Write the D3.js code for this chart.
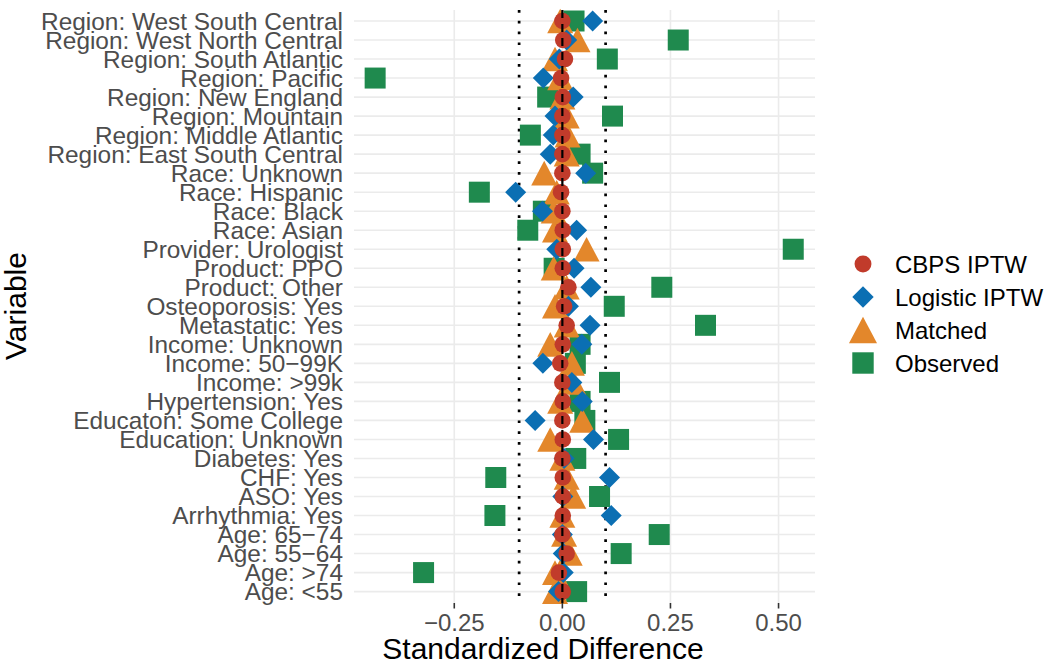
<!DOCTYPE html>
<html>
<head>
<meta charset="utf-8">
<script src="https://cdn.jsdelivr.net/npm/d3@7"></script>
<style>
  html, body { margin: 0; padding: 0; background: #fff; }
  svg { display: block; }
  text { font-family: "Liberation Sans", Arial, Helvetica, sans-serif; }
</style>
</head>
<body>
<svg id="chart" width="1050" height="667"></svg>
<script>
const variables = [
  "Region: West South Central", "Region: West North Central", "Region: South Atlantic",
  "Region: Pacific", "Region: New England", "Region: Mountain", "Region: Middle Atlantic",
  "Region: East South Central", "Race: Unknown", "Race: Hispanic", "Race: Black", "Race: Asian",
  "Provider: Urologist", "Product: PPO", "Product: Other", "Osteoporosis: Yes", "Metastatic: Yes",
  "Income: Unknown", "Income: 50\u221299K", "Income: >99k", "Hypertension: Yes",
  "Educaton: Some College", "Education: Unknown", "Diabetes: Yes", "CHF: Yes", "ASO: Yes",
  "Arrhythmia: Yes", "Age: 65\u221274", "Age: 55\u221264", "Age: >74", "Age: <55"
];
const cbpsIPTW = [0, 0.002, 0.006, -0.003, 0.001, 0, 0, 0, 0, -0.003, 0, 0.001, 0.001, 0.001, 0.014, 0.004, 0.01, 0.001, -0.005, 0, 0.001, 0, 0.001, 0, 0.001, 0.001, 0.001, 0, 0.01, -0.008, 0.001];
const logisticIPTW = [0.070, 0.01, -0.007, -0.044, 0.025, -0.017, -0.021, -0.028, 0.054, -0.108, -0.046, 0.033, -0.013, 0.027, 0.066, 0.014, 0.064, 0.045, -0.045, 0.022, 0.046, -0.063, 0.072, 0.004, 0.109, 0.001, 0.113, 0.0, 0.002, 0.002, -0.009];
const matched = [-0.005, 0.035, -0.017, -0.005, 0.0, 0.01, 0.012, 0.01, -0.042, -0.013, -0.02, -0.017, 0.056, -0.02, 0.01, -0.017, 0.01, -0.028, 0.022, 0.025, -0.005, 0.046, -0.028, 0.0, 0.01, 0.025, 0.0, 0.004, 0.017, -0.017, -0.017];
const observed = [0.027, 0.268, 0.104, -0.433, -0.034, 0.116, -0.074, 0.041, 0.070, -0.192, -0.044, -0.08, 0.534, -0.019, 0.230, 0.120, 0.331, 0.041, 0.03, 0.109, 0.041, 0.052, 0.130, 0.031, -0.154, 0.086, -0.156, 0.224, 0.136, -0.321, 0.033];
const xTicks = [-0.25, 0, 0.25, 0.5];
const xTickLabels = ["\u22120.25", "0.00", "0.25", "0.50"];
const thresholds = [-0.1, 0.1];
const seriesNames = ["CBPS IPTW", "Logistic IPTW", "Matched", "Observed"];
const seriesColors = ["#C13B2B", "#0B6FB3", "#E3872B", "#1F8A4E"];
const seriesShapes = ["circle", "diamond", "triangle", "square"];

const series = [
  { name: seriesNames[0], values: cbpsIPTW, color: seriesColors[0], shape: seriesShapes[0] },
  { name: seriesNames[1], values: logisticIPTW, color: seriesColors[1], shape: seriesShapes[1] },
  { name: seriesNames[2], values: matched, color: seriesColors[2], shape: seriesShapes[2] },
  { name: seriesNames[3], values: observed, color: seriesColors[3], shape: seriesShapes[3] }
];
const drawOrder = [3, 2, 1, 0];

const svg = d3.select("#chart");
svg.append("rect").attr("width", 1050).attr("height", 667).attr("fill", "#fff");

const panel = { left: 354, right: 815, top: 10, bottom: 603 };
const x = d3.scaleLinear().domain([-0.4819, 0.5843]).range([panel.left, panel.right]);
const y = d3.scalePoint().domain(variables).range([21, 591.6]);

function shapePath(shape, s) {
  s = s || 1;
  if (shape === "circle") {
    const r = 8.3 * s;
    return `M${-r},0A${r},${r} 0 1,0 ${r},0A${r},${r} 0 1,0 ${-r},0Z`;
  }
  if (shape === "diamond") {
    const h = 10.5 * s;
    return `M0,${-h}L${h},0L0,${h}L${-h},0Z`;
  }
  if (shape === "triangle") {
    const b = 13 * s, t = 12.3 * s;
    return `M0,${-t}L${b},${t}L${-b},${t}Z`;
  }
  const q = 10.5 * s;
  return `M${-q},${-q}L${q},${-q}L${q},${q}L${-q},${q}Z`;
}

// grid
const grid = svg.append("g");
grid.selectAll("line.h").data(variables).join("line")
  .attr("x1", panel.left).attr("x2", panel.right)
  .attr("y1", d => y(d)).attr("y2", d => y(d))
  .attr("stroke", "#EBEBEB").attr("stroke-width", 1.6);
grid.selectAll("line.v").data(xTicks).join("line")
  .attr("x1", d => x(d)).attr("x2", d => x(d))
  .attr("y1", panel.top).attr("y2", panel.bottom)
  .attr("stroke", "#EBEBEB").attr("stroke-width", 1.6);

// threshold dotted lines
svg.append("g").selectAll("line").data(thresholds).join("line")
  .attr("x1", d => x(d)).attr("x2", d => x(d))
  .attr("y1", panel.top).attr("y2", panel.bottom)
  .attr("stroke", "#000").attr("stroke-width", 2.7)
  .attr("stroke-dasharray", "2.7,8.1");

// points
const pts = svg.append("g");
drawOrder.forEach(si => {
  const s = series[si];
  pts.append("g").selectAll("path").data(variables).join("path")
    .attr("transform", (d, i) => `translate(${x(s.values[i])},${y(d)})`)
    .attr("d", shapePath(s.shape))
    .attr("fill", s.color);
});

// zero dashed line
svg.append("line")
  .attr("x1", x(0)).attr("x2", x(0))
  .attr("y1", panel.top).attr("y2", panel.bottom)
  .attr("stroke", "#000").attr("stroke-width", 2.2)
  .attr("stroke-dasharray", "8,6");

// x axis ticks and labels
const xa = svg.append("g");
xa.selectAll("line").data(xTicks).join("line")
  .attr("x1", d => x(d)).attr("x2", d => x(d))
  .attr("y1", 603).attr("y2", 608.5)
  .attr("stroke", "#333").attr("stroke-width", 1.6);
xa.selectAll("text").data(xTicks).join("text")
  .attr("x", d => x(d)).attr("y", 631)
  .attr("text-anchor", "middle")
  .attr("font-size", 24).attr("fill", "#4D4D4D")
  .text((d, i) => xTickLabels[i]);

// y labels
svg.append("g").selectAll("text").data(variables).join("text")
  .attr("x", 343).attr("y", d => y(d) + 8.6)
  .attr("text-anchor", "end")
  .attr("font-size", 24.4).attr("fill", "#4D4D4D")
  .text(d => d);

// axis titles
svg.append("text")
  .attr("x", 543).attr("y", 659)
  .attr("text-anchor", "middle").attr("font-size", 30).attr("fill", "#000")
  .text("Standardized Difference");
svg.append("text")
  .attr("transform", "translate(26,306) rotate(-90)")
  .attr("text-anchor", "middle").attr("font-size", 30).attr("fill", "#000")
  .text("Variable");

// legend
const legend = svg.append("g");
const legY = d3.scalePoint().domain(seriesNames).range([264, 363]);
const leg = legend.selectAll("g").data(series).join("g")
  .attr("transform", d => `translate(863,${legY(d.name)})`);
leg.append("path")
  .attr("d", d => shapePath(d.shape, d.shape === "triangle" ? 1.08 : 1.02))
  .attr("fill", d => d.color);
leg.append("text")
  .attr("x", 32).attr("y", 8.6)
  .attr("font-size", 24).attr("fill", "#000")
  .text(d => d.name);
</script>
</body>
</html>
